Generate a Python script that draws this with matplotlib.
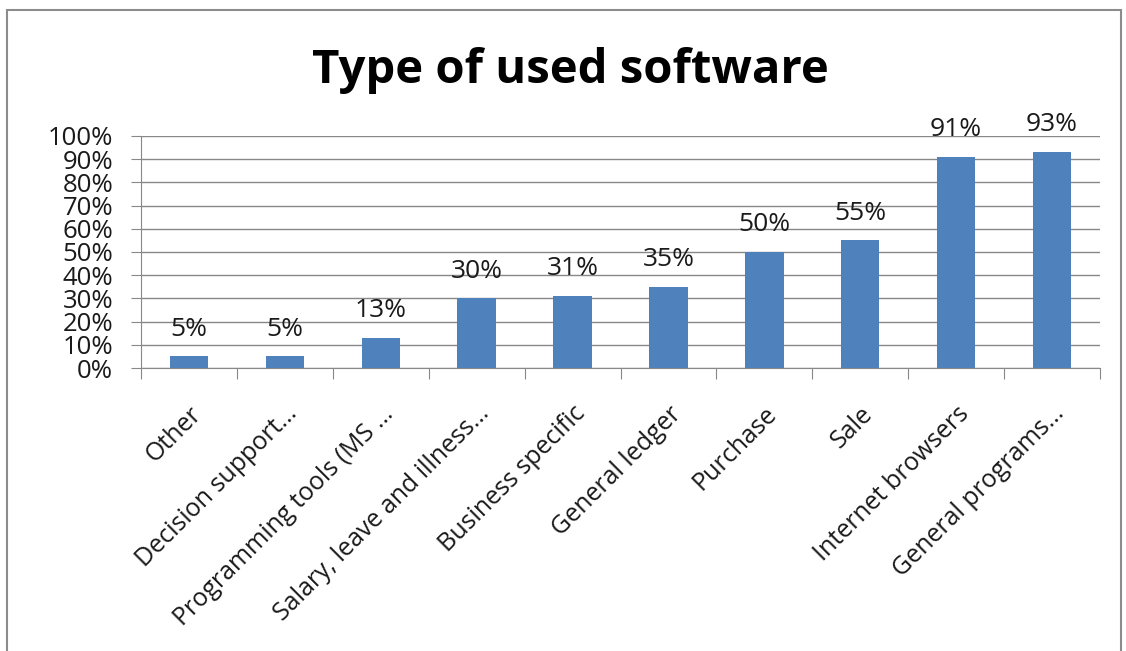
import matplotlib.pyplot as plt
from matplotlib.patches import Rectangle

# Datos del gráfico
categories = ['Other', 'Decision support…', 'Programming tools (MS …',
              'Salary, leave and illness…', 'Business specific', 'General ledger',
              'Purchase', 'Sale', 'Internet browsers', 'General programs…']
values = [5, 5, 13, 30, 31, 35, 50, 55, 91, 93]
yticks = list(range(0, 101, 10))

plt.rcParams['font.family'] = ['Open Sans', 'DejaVu Sans']

fig = plt.figure(figsize=(11.26, 6.51), dpi=100)
ax = fig.add_axes([141 / 1126, 1 - 368 / 651, (1100 - 141) / 1126, (368 - 136) / 651])

# Marco exterior
fig.patches.append(Rectangle((7 / 1126, -0.1), 1114 / 1126, 1.1 - 10 / 651,
                             transform=fig.transFigure, fill=False,
                             edgecolor='#8c8c8c', linewidth=1.5))

x = list(range(len(categories)))
ax.bar(x, values, width=0.4, color='#4F81BD', zorder=3)

for xi, v in zip(x, values):
    ax.annotate(f'{v}%', (xi, v), xytext=(0, 15), textcoords='offset points',
                ha='center', va='baseline', fontsize=19, color='#1a1a1a')

ax.set_xlim(-0.5, len(categories) - 0.5)
ax.set_ylim(0, 100)
ax.set_yticks(yticks)
ax.set_yticklabels([f'{t}%' for t in yticks], fontsize=18.5)
ax.yaxis.grid(True, color='#888888', linewidth=1, zorder=0)
ax.tick_params(axis='y', length=7, color='#888888', pad=13, labelcolor='#1a1a1a')

# Marcas del eje x en los límites de las categorías
ax.set_xticks([i - 0.5 for i in range(len(categories) + 1)])
ax.set_xticklabels([])
ax.set_xticks(x, minor=True)
ax.set_xticklabels(categories, minor=True, rotation=45, ha='right',
                   rotation_mode='anchor', fontsize=18, color='#1a1a1a')
ax.tick_params(axis='x', which='major', length=8, color='#888888', direction='out')
ax.tick_params(axis='x', which='minor', length=0, pad=24)

for side in ['top', 'right']:
    ax.spines[side].set_visible(False)
ax.spines['left'].set_color('#888888')
ax.spines['bottom'].set_color('#888888')

fig.text(570 / 1126, 1 - 70 / 651, 'Type of used software', ha='center', va='center',
         fontsize=34, fontweight='bold')

fig.savefig('out.png', dpi=100)
